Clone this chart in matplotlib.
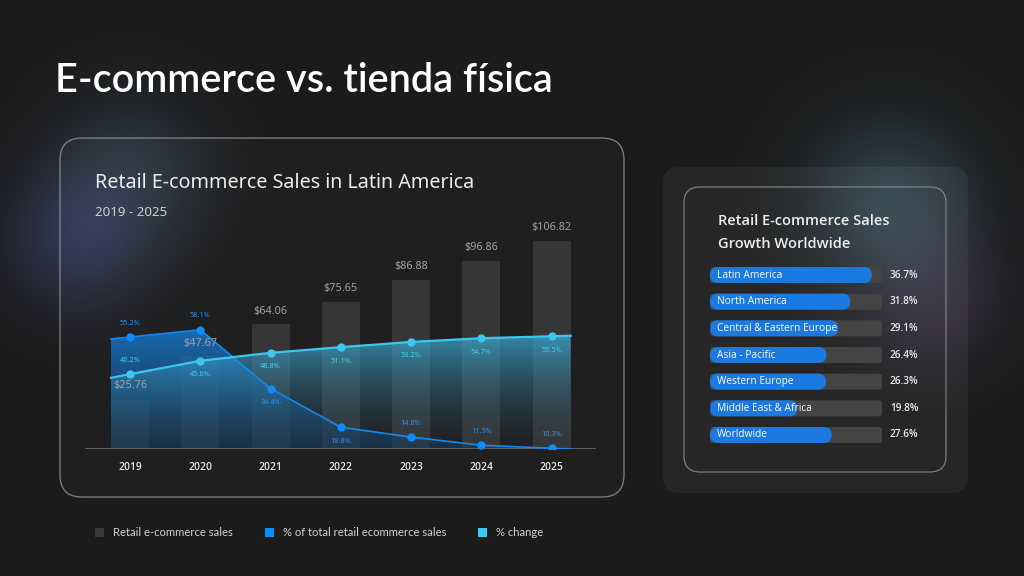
import numpy as np
import matplotlib.pyplot as plt
from matplotlib.patches import FancyBboxPatch, Rectangle

years = ['2019', '2020', '2021', '2022', '2023', '2024', '2025']
sales = [25.76, 47.67, 64.06, 75.65, 86.88, 96.86, 106.82]
share_total = [55.2, 58.1, 34.4, 18.8, 14.8, 11.5, 10.3]   # % of total retail ecommerce sales
pct_change = [40.2, 45.6, 48.8, 51.1, 53.2, 54.7, 55.5]    # % change

regions = ['Latin America', 'North America', 'Central & Eastern Europe', 'Asia - Pacific',
           'Western Europe', 'Middle East & Africa', 'Worldwide']
growth = [36.7, 31.8, 29.1, 26.4, 26.3, 19.8, 27.6]

W, H = 1024, 576
BG = '#1c1c1c'
BLUE = '#1688ec'
CYAN = '#3ec6f0'
FONT = ['Noto Sans', 'DejaVu Sans']
FONT_B = ['Open Sans', 'DejaVu Sans']

fig = plt.figure(figsize=(W / 100, H / 100), dpi=100)
fig.patch.set_facecolor(BG)

# --- фон з м'якими відблисками ---
bg = fig.add_axes([0, 0, 1, 1])
bg.set_xlim(0, W)
bg.set_ylim(H, 0)
bg.axis('off')
yy, xx = np.mgrid[0:H, 0:W]
img = np.ones((H, W, 3)) * np.array([27, 27, 27])
for cx, cy, s, col in [(75, 240, 50, (18, 22, 48)),
                       (130, 175, 55, (16, 26, 36)),
                       (890, 205, 58, (20, 40, 50)),
                       (935, 300, 50, (22, 14, 28))]:
    g = np.exp(-((xx - cx) ** 2 + (yy - cy) ** 2) / (2 * s ** 2))
    img += g[..., None] * np.array(col)
bg.imshow(np.clip(img, 0, 255).astype(np.uint8), extent=[0, W, H, 0], aspect='auto', zorder=0)

# панелі
bg.add_patch(FancyBboxPatch((60, 138), 564, 359, boxstyle='round,pad=0,rounding_size=22',
                            facecolor=(1, 1, 1, 0.02), edgecolor=(0.6, 0.6, 0.6, 0.75), lw=1, zorder=1))
bg.add_patch(FancyBboxPatch((663, 167), 305, 326, boxstyle='round,pad=0,rounding_size=16',
                            facecolor=(1, 1, 1, 0.05), edgecolor='none', zorder=1))
bg.add_patch(FancyBboxPatch((684, 187), 262, 285, boxstyle='round,pad=0,rounding_size=16',
                            facecolor=(1, 1, 1, 0.0), edgecolor=(0.55, 0.55, 0.55, 0.85), lw=0.9, zorder=1))

# заголовки
bg.text(55, 80, 'E-commerce vs. tienda física', fontsize=28.5, color='white',
        family=['Lato', 'DejaVu Sans'], weight='semibold', va='center', zorder=3)
bg.text(95, 183, 'Retail E-commerce Sales in Latin America', fontsize=14.2, color='#ebebeb',
        family=FONT, weight='medium', va='center', zorder=3)
bg.text(95, 212, '2019 - 2025', fontsize=9.6, color='#cfcfcf', family=FONT, va='center', zorder=3)
bg.text(718, 221, 'Retail E-commerce Sales', fontsize=10.5, color='#eeeeee', family=FONT_B,
        weight='semibold', va='center', zorder=3)
bg.text(718, 244, 'Growth Worldwide', fontsize=10.5, color='#eeeeee', family=FONT_B,
        weight='semibold', va='center', zorder=3)

# легенда
for sx, tx, col, lab in [(95, 113, '#383838', 'Retail e-commerce sales'),
                         (265, 283, '#0a8ff5', '% of total retail ecommerce sales'),
                         (478, 496, '#3cc8f4', '% change')]:
    bg.add_patch(Rectangle((sx, 528), 9, 9, facecolor=col, edgecolor='none', zorder=3))
    bg.text(tx, 533, lab, fontsize=8.1, color='#d2d2d2', family=['Lato', 'DejaVu Sans'],
            va='center', zorder=3)

# --- основний графік ---
ax = fig.add_axes([85 / W, (H - 449) / H, (596 - 85) / W, (449 - 200) / H])
ax.patch.set_alpha(0)
ax2 = ax.twinx()
x = np.arange(len(years))
bw = 0.54
ax.bar(x, sales, width=bw, color='#363636', zorder=1)


def grad_fill(a, xs, ys, y0, c_top, c_bot, a_top, a_bot, z):
    poly = a.fill_between(xs, ys, y0, facecolor='none', edgecolor='none')
    n = 256
    g = np.zeros((n, 1, 4))
    t = np.linspace(0, 1, n)[:, None]
    g[:, 0, :3] = (np.array(c_top) * (1 - t) + np.array(c_bot) * t) / 255
    g[:, 0, 3] = a_top * (1 - t[:, 0]) + a_bot * t[:, 0]
    im = a.imshow(g, aspect='auto', extent=[min(xs), max(xs), y0, max(ys)], origin='upper', zorder=z)
    im.set_clip_path(poly.get_paths()[0], transform=a.transData)


def to_edges(vals):
    # продовжуємо лінію до країв крайніх стовпців
    v = np.asarray(vals, float)
    left = v[0] - (v[1] - v[0]) * bw / 2
    right = v[-1] + (v[-1] - v[-2]) * bw / 2
    return np.r_[-bw / 2, x, x[-1] + bw / 2], np.r_[left, v, right]


y_lo = 10.0
xs_b, ys_b = to_edges(share_total)
xs_c, ys_c = to_edges(pct_change)
grad_fill(ax2, xs_b, ys_b, y_lo, (24, 120, 205), (22, 58, 92), 0.85, 0.6, 2)
grad_fill(ax2, xs_c, ys_c, y_lo, (60, 178, 222), (40, 70, 90), 0.72, 0.05, 3)
ax2.axhline(y_lo, color='#5f5f5f', lw=2.2, zorder=4)
ax2.plot(xs_b, ys_b, color=BLUE, lw=1.2, zorder=5)
ax2.plot(x, share_total, 'o', color='#0e8cf8', ms=5, zorder=6)
ax2.plot(xs_c, ys_c, color=CYAN, lw=1.6, zorder=5)
ax2.plot(x, pct_change, 'o', color=CYAN, ms=5, zorder=6)

pos_b = [1, 1, -1, -1, 1, 1, 1]
pos_c = [1, -1, -1, -1, -1, -1, -1]
for i in range(len(x)):
    ax2.annotate(f'{share_total[i]}%', (x[i], share_total[i]), xytext=(0, 10 * pos_b[i]),
                 textcoords='offset points', ha='center', va='center', fontsize=5.3,
                 color='#2a90ee', family=FONT, zorder=7)
    ax2.annotate(f'{pct_change[i]}%', (x[i], pct_change[i]), xytext=(0, 10 * pos_c[i]),
                 textcoords='offset points', ha='center', va='center', fontsize=5.3,
                 color='#3fd2f2', family=FONT, zorder=7)
    ax2.annotate(f'${sales[i]:.2f}', (x[i], sales[i]), xycoords=ax.transData, xytext=(0, 9.5),
                 textcoords='offset points', ha='center', va='center', fontsize=7.8,
                 color='#a2a2a2', family=FONT, zorder=7)

ax.set_xlim(-0.64, 6.63)
ax.set_ylim(0, 249 / 1.946)
ax2.set_ylim(y_lo, y_lo + 249 / 2.478)
ax2.set_xlim(-0.64, 6.63)
ax.set_xticks(x, years)
ax.tick_params(axis='x', length=0, pad=9, labelsize=7.4, labelcolor='#e6e6e6')
for lbl in ax.get_xticklabels():
    lbl.set_family(FONT_B)
    lbl.set_weight('semibold')
ax.set_yticks([])
ax2.set_yticks([])
for a in (ax, ax2):
    for s in a.spines.values():
        s.set_visible(False)

# --- правий графік: зростання за регіонами ---
axr = fig.add_axes([710 / W, (H - 448.3) / H, 172 / W, 186.6 / H])
axr.set_xlim(0, 39)
axr.set_ylim(6.5, -0.5)
axr.axis('off')
px_x = 172 / 39
px_y = 186.6 / 7
asp = px_x / px_y
bh = 16 / px_y
for i, (name, v) in enumerate(zip(regions, growth)):
    axr.add_patch(FancyBboxPatch((0, i - bh / 2), 39, bh,
                                 boxstyle=f'round,pad=0,rounding_size={3 / px_x}',
                                 mutation_aspect=asp, facecolor='#444444', edgecolor='none'))
    axr.add_patch(FancyBboxPatch((0, i - bh / 2), v, bh,
                                 boxstyle=f'round,pad=0,rounding_size={8 / px_x}',
                                 mutation_aspect=asp, facecolor='#1a7ae2', edgecolor='none'))
    axr.text(7 / px_x, i, name, fontsize=7.3, color='#f2f2f2', family=FONT, va='center')
    axr.text(180 / px_x, i, f'{v}%', fontsize=7.2, color='#e8e8e8', family=FONT_B,
             weight='semibold', va='center', clip_on=False)

fig.savefig('out.png', dpi=100, facecolor=fig.get_facecolor())
